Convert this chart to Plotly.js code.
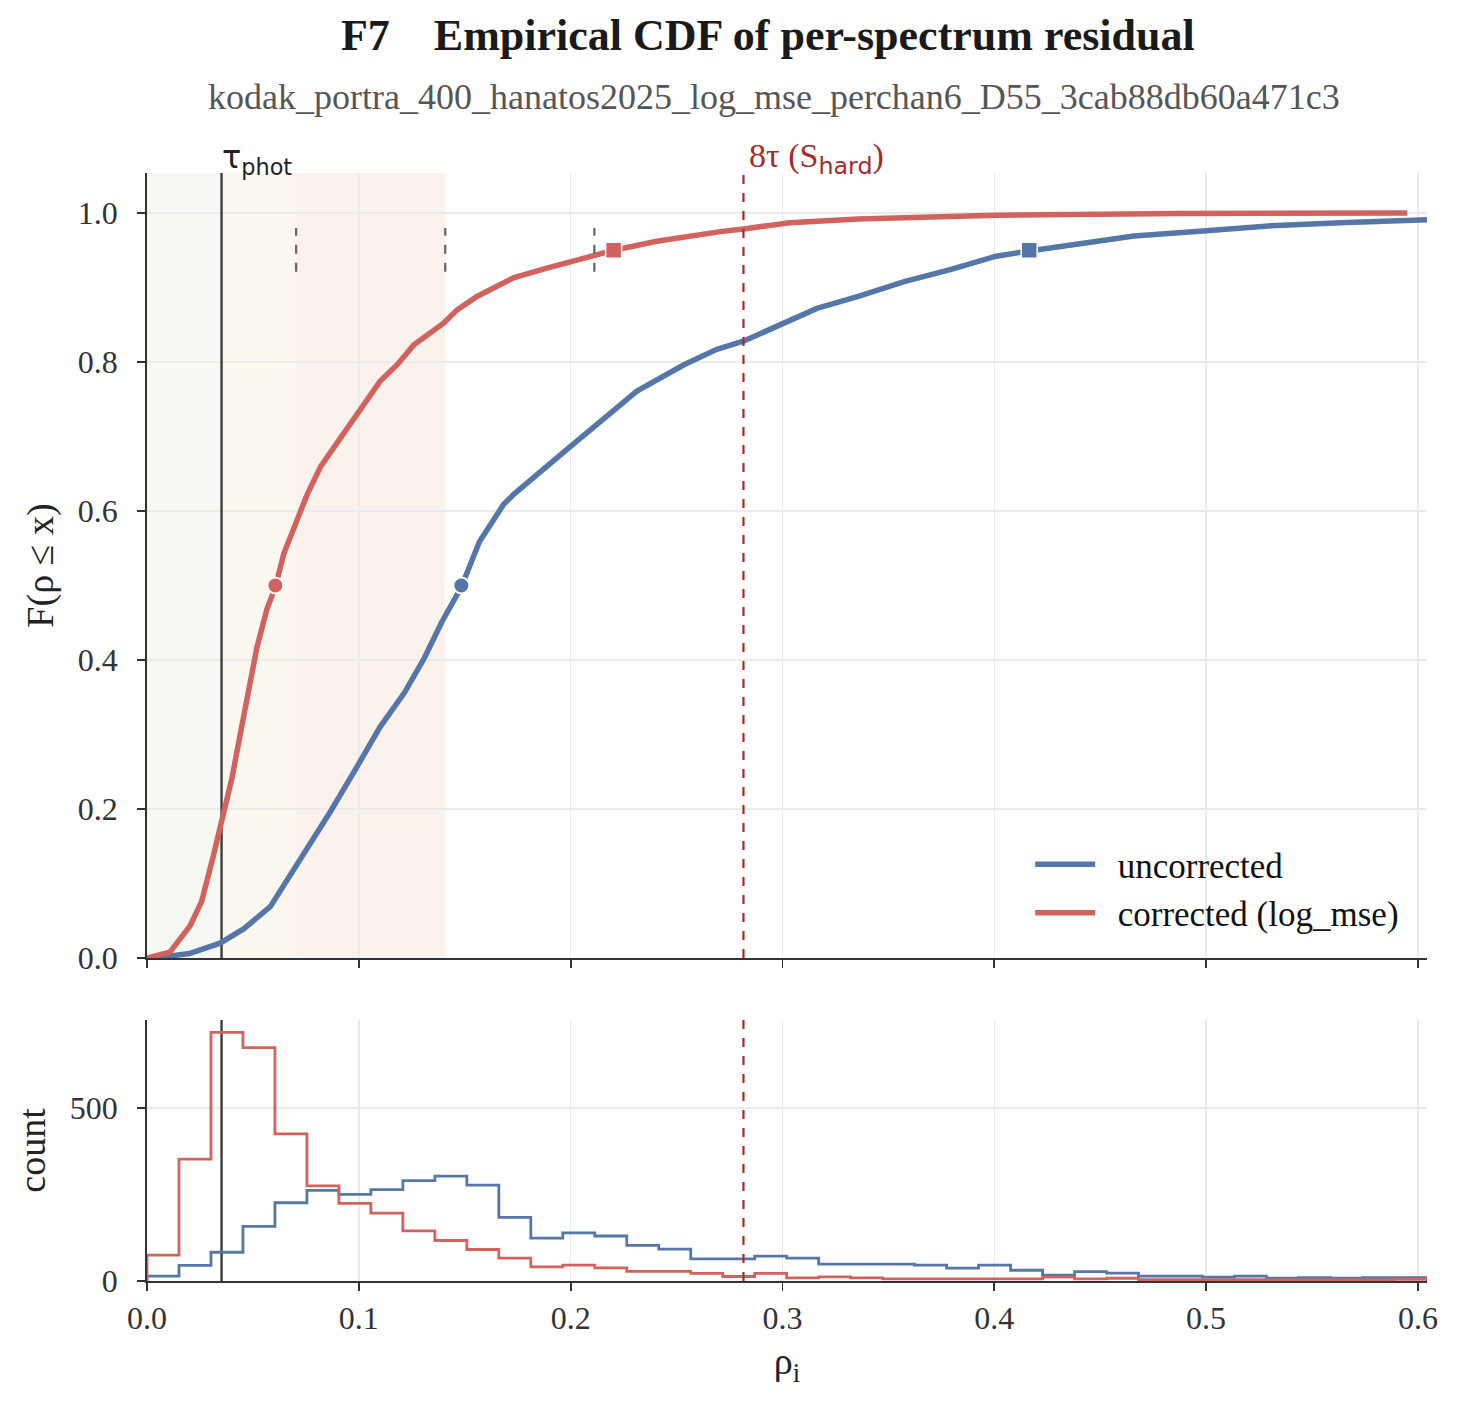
<!DOCTYPE html>
<html>
<head>
<meta charset="utf-8">
<script src="https://cdn.plot.ly/plotly-3.0.1.min.js"></script>
<style>html,body{margin:0;padding:0;background:#fff;}#chart{width:1457px;height:1406px;}</style>
</head>
<body>
<div id="chart"></div>
<script>
// ---------- data ----------
const TAU = 0.0352;               // tau_phot
const HIST_MAX = 0.604;           // histogram range upper edge
const N_BINS = 40;

// Empirical CDF, uncorrected (blue)
const cdfUncorrX = [0.004, 0.0092, 0.020, 0.0345, 0.0456, 0.0582, 0.0693, 0.0772, 0.0867, 0.0994, 0.110, 0.1215, 0.131, 0.139, 0.1484, 0.157, 0.1684, 0.173, 0.1825, 0.198, 0.214, 0.2313, 0.2533, 0.269, 0.2816, 0.2967, 0.3163, 0.3358, 0.3575, 0.3792, 0.4009, 0.4165, 0.4443, 0.466, 0.4985, 0.531, 0.5636, 0.6048];
const cdfUncorrF = [0.0, 0.002, 0.006, 0.020, 0.039, 0.069, 0.118, 0.153, 0.197, 0.258, 0.310, 0.356, 0.403, 0.450, 0.498, 0.559, 0.609, 0.622, 0.644, 0.682, 0.720, 0.761, 0.796, 0.817, 0.828, 0.848, 0.872, 0.888, 0.908, 0.924, 0.942, 0.949, 0.960, 0.969, 0.976, 0.983, 0.987, 0.991];

// Empirical CDF, corrected (red)
const cdfCorrX = [0.0, 0.0108, 0.0203, 0.0258, 0.0313, 0.0353, 0.040, 0.044, 0.048, 0.0519, 0.0566, 0.0606, 0.0646, 0.0701, 0.0756, 0.0820, 0.0915, 0.100, 0.110, 0.118, 0.126, 0.140, 0.1464, 0.1558, 0.173, 0.1888, 0.1983, 0.2116, 0.2203, 0.2407, 0.2596, 0.2707, 0.2826, 0.3033, 0.3358, 0.4009, 0.4876, 0.595];
const cdfCorrF = [0.0, 0.008, 0.043, 0.076, 0.137, 0.188, 0.240, 0.300, 0.361, 0.417, 0.468, 0.498, 0.543, 0.582, 0.622, 0.660, 0.699, 0.734, 0.774, 0.796, 0.823, 0.852, 0.870, 0.888, 0.913, 0.926, 0.933, 0.944, 0.950, 0.962, 0.971, 0.975, 0.979, 0.987, 0.992, 0.997, 0.9995, 1.0];

// median (F=0.5) and p95 (F=0.95) markers
const medianX = {uncorr: 0.1484, corr: 0.0606};
const p95X    = {uncorr: 0.4165, corr: 0.2203};

// histogram counts (40 bins on [0, HIST_MAX])
const histUncorr = [14, 45, 83, 158, 226, 262, 250, 264, 290, 303, 277, 184, 124, 139, 130, 103, 92, 64, 64, 72, 66, 49, 49, 49, 46, 37, 46, 31, 17, 27, 23, 14, 14, 11, 14, 8, 10, 8, 10, 10];
const histCorr   = [75, 352, 718, 674, 425, 275, 224, 196, 145, 117, 91, 66, 41, 46, 38, 28, 28, 22, 13, 22, 9, 12, 9, 6, 6, 6, 6, 6, 11, 6, 8, 4, 4, 4, 4, 4, 4, 4, 4, 5];

const xTicks = [0, 0.1, 0.2, 0.3, 0.4, 0.5, 0.6];
const fTicks = [0, 0.2, 0.4, 0.6, 0.8, 1.0];
const countTicks = [0, 500];
const seriesNames = ['uncorrected', 'corrected (log_mse)'];

// ---------- styling ----------
const BLUE = '#5577a8';
const RED = '#d2625e';
const SERIF = 'Liberation Serif, Times New Roman, serif';
const SANS = 'DejaVu Sans, sans-serif';
const X_RANGE = [0, 0.6043];
const F_RANGE = [0, 1.0537];
const C_RANGE = [0, 754];

function stepOutline(counts) {
  const w = HIST_MAX / N_BINS;
  const xs = [0], ys = [0];
  counts.forEach((c, k) => { xs.push(k * w); ys.push(c); });
  xs.push(N_BINS * w); ys.push(0);
  return {xs, ys};
}
const hU = stepOutline(histUncorr), hC = stepOutline(histCorr);

function vline(x, xa, ya, yr, color, width, dash) {
  return {x: [x, x], y: yr, xaxis: xa, yaxis: ya, mode: 'lines', showlegend: false, hoverinfo: 'skip',
          line: {color: color, width: width, dash: dash || 'solid'}};
}

const traces = [
  vline(TAU, 'x', 'y', F_RANGE, '#3c3c3c', 2.4),
  vline(TAU, 'x2', 'y2', C_RANGE, '#3c3c3c', 2.4),
  {x: cdfUncorrX, y: cdfUncorrF, xaxis: 'x', yaxis: 'y', mode: 'lines', name: '\u00a0\u00a0' + seriesNames[0],
   line: {color: BLUE, width: 5.5}},
  {x: cdfCorrX, y: cdfCorrF, xaxis: 'x', yaxis: 'y', mode: 'lines', name: '\u00a0\u00a0' + seriesNames[1],
   line: {color: RED, width: 5.5}},
  {x: [medianX.uncorr, medianX.corr], y: [0.5, 0.5], xaxis: 'x', yaxis: 'y', mode: 'markers', showlegend: false,
   marker: {symbol: 'circle', size: 16, color: [BLUE, RED], line: {color: '#fff', width: 2}}},
  {x: [p95X.uncorr, p95X.corr], y: [0.95, 0.95], xaxis: 'x', yaxis: 'y', mode: 'markers', showlegend: false,
   marker: {symbol: 'square', size: 16, color: [BLUE, RED], line: {color: '#fff', width: 1.5}}},
  {x: hU.xs, y: hU.ys, xaxis: 'x2', yaxis: 'y2', mode: 'lines', showlegend: false,
   line: {color: BLUE, width: 2.8, shape: 'hv'}},
  {x: hC.xs, y: hC.ys, xaxis: 'x2', yaxis: 'y2', mode: 'lines', showlegend: false,
   line: {color: RED, width: 2.8, shape: 'hv'}}
];

const tickFont = {family: SERIF, size: 32, color: '#333'};
const axBase = {
  showline: true, linecolor: '#333', linewidth: 1.8, ticks: 'outside', ticklen: 8, tickwidth: 1.8, tickcolor: '#333',
  showgrid: true, gridcolor: '#ebebeb', gridwidth: 1.5, zeroline: false, tickfont: tickFont, mirror: false
};

const shapes = [];
function band(x0, x1, color) {
  shapes.push({type: 'rect', xref: 'x', yref: 'y domain', x0: x0, x1: x1, y0: 0, y1: 1, fillcolor: color, line: {width: 0}, layer: 'below'});
}
band(0, TAU, '#f6f8f3');
band(TAU, 2 * TAU, '#fcf8f0');
band(2 * TAU, 4 * TAU, '#fbf2ee');
const HARD_LINE = {color: '#a52a2a', width: 2.2, dash: 'dash'};
shapes.push({type: 'line', xref: 'x', yref: 'y domain', x0: 8 * TAU, x1: 8 * TAU, y0: 0, y1: 1, line: HARD_LINE, layer: 'above'});
shapes.push({type: 'line', xref: 'x2', yref: 'y2 domain', x0: 8 * TAU, x1: 8 * TAU, y0: 0, y1: 1, line: HARD_LINE, layer: 'above'});
[2, 4, 6].forEach(function (m) {
  shapes.push({type: 'line', xref: 'x', yref: 'y', x0: m * TAU, x1: m * TAU, y0: 0.921, y1: 0.98, line: {color: '#6a6a6a', width: 2.3, dash: 'dash'}, layer: 'above'});
});

const axTitleFont = {family: SERIF, size: 38, color: '#222'};
const layout = {
  width: 1457, height: 1406,
  paper_bgcolor: '#fff', plot_bgcolor: 'rgba(0,0,0,0)',
  margin: {l: 147, r: 30, t: 173, b: 125},
  showlegend: true,
  title: {text: '<b>F7\u00a0\u00a0\u00a0\u00a0Empirical CDF of per-spectrum residual</b>', font: {family: SERIF, size: 44, color: '#1a1a1a'},
          x: 0.527, xanchor: 'center', xref: 'container', y: 1 - 35 / 1406, yref: 'container', yanchor: 'middle'},
  xaxis: Object.assign({}, axBase, {anchor: 'y', domain: [0, 1], range: X_RANGE, tickvals: xTicks, showticklabels: false}),
  xaxis2: Object.assign({}, axBase, {anchor: 'y2', domain: [0, 1], range: X_RANGE, tickvals: xTicks, tickformat: '.1f',
          title: {text: 'ρ<sub>i</sub>', font: axTitleFont, standoff: 12}}),
  yaxis: Object.assign({}, axBase, {anchor: 'x', domain: [0.2915, 1], range: F_RANGE, tickvals: fTicks, tickformat: '.1f',
          ticklabelstandoff: 13, title: {text: 'F(ρ ≤ x)', font: axTitleFont, standoff: 12}}),
  yaxis2: Object.assign({}, axBase, {anchor: 'x2', domain: [0, 0.2356], range: C_RANGE, tickvals: countTicks,
          ticklabelstandoff: 13, title: {text: 'count', font: axTitleFont, standoff: 12}}),
  legend: {x: 0.69, y: 0.4025, xanchor: 'left', yanchor: 'top', bgcolor: 'rgba(0,0,0,0)', font: {family: SERIF, size: 35, color: '#111'},
           itemwidth: 60, tracegroupgap: 0},
  shapes: shapes,
  annotations: [
    {xref: 'paper', yref: 'paper', x: 0.4897, y: (1281 - 97) / 1108, xanchor: 'center', yanchor: 'middle', showarrow: false,
     text: 'kodak_portra_400_hanatos2025_log_mse_perchan6_D55_3cab88db60a471c3', font: {family: SERIF, size: 36, color: '#555'}},
    {xref: 'x', yref: 'y domain', x: TAU, y: 1, xanchor: 'left', yanchor: 'bottom', showarrow: false, xshift: -2, yshift: -9,
     text: 'τ<sub>phot</sub>', font: {family: SANS, size: 32, color: '#222'}},
    {xref: 'x', yref: 'y domain', x: 8 * TAU, y: 1, xanchor: 'left', yanchor: 'bottom', showarrow: false, xshift: 4, yshift: -9,
     text: '8τ (S<sub><span style="font-family:DejaVu Sans">hard</span></sub>)', font: {family: SERIF, size: 34, color: '#a52a2a'}}
  ]
};

Plotly.newPlot('chart', traces, layout, {displayModeBar: false, staticPlot: true});
</script>
</body>
</html>
